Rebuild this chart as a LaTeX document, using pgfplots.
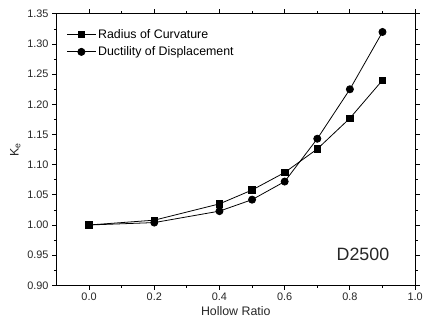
\documentclass[border=0pt]{standalone}
\usepackage{pgfplots}
\pgfplotsset{compat=1.18}
\usepackage{fontspec}
\setmainfont{Liberation Sans}
\begin{document}
\begin{tikzpicture}
\begin{axis}[
  at={(0,0)}, anchor=south west,
  scale only axis,
  width=362pt, height=274pt,
  xmin=-0.1, xmax=1.0, ymin=0.90, ymax=1.35,
  xtick={0,0.2,...,1.0}, ytick={0.90,0.95,...,1.351},
  minor x tick num=1, minor y tick num=1,
  xticklabel style={/pgf/number format/.cd,fixed,fixed zerofill,precision=1},
  yticklabel style={/pgf/number format/.cd,fixed,fixed zerofill,precision=2},
  /pgf/number format/assume math mode=true,
  tick label style={font=\fontsize{11}{13}\selectfont, color=black!85},
  tick align=outside,
  major tick length=4.5pt, minor tick length=2.5pt,
  axis line style={line width=1pt},
  tick style={line width=0.8pt, color=black},
  xlabel={Hollow Ratio}, ylabel={K$_\mathrm{e}$},
  label style={font=\fontsize{12.5}{14}\selectfont, color=black!85},
  xlabel style={yshift=1pt},
  ylabel style={yshift=0pt},
  legend style={draw=none, fill=none, at={(0.025,0.955)}, anchor=north west, font=\fontsize{12.5}{14}\selectfont, row sep=3pt, inner sep=1pt},
  legend cell align=left,
  legend image code/.code={\draw[mark repeat=2,mark phase=2,#1] plot coordinates {(0pt,0pt) (14.5pt,0pt) (29pt,0pt)};},
]
\addplot[black, line width=0.8pt, mark=square*, mark size=3.3pt] coordinates {
(0.0,1.000) (0.2,1.008) (0.4,1.035) (0.5,1.058) (0.6,1.087) (0.7,1.126) (0.8,1.177) (0.9,1.240)};
\addlegendentry{Radius of Curvature}
\addplot[black, line width=0.8pt, mark=*, mark size=3.6pt] coordinates {
(0.0,1.000) (0.2,1.004) (0.4,1.023) (0.5,1.042) (0.6,1.072) (0.7,1.143) (0.8,1.225) (0.9,1.320)};
\addlegendentry{Ductility of Displacement}
\node[font=\fontsize{18}{20}\selectfont, color=black!85] at (axis cs:0.84,0.951) {D2500};
\end{axis}
\pgfresetboundingbox
\useasboundingbox (-57pt,-45pt) rectangle (372pt,288pt);
\end{tikzpicture}
\end{document}
